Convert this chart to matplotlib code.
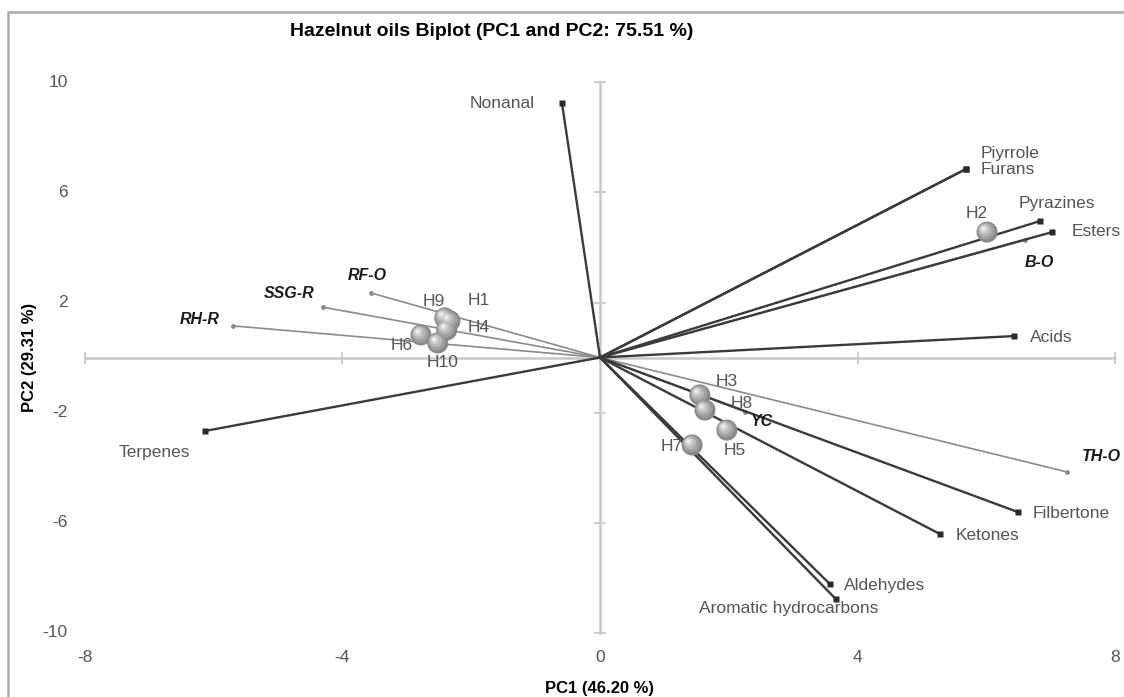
import matplotlib
matplotlib.use("Agg")
import matplotlib.pyplot as plt
from matplotlib.transforms import offset_copy
from matplotlib.patches import Rectangle

plt.rcParams['font.family'] = ['Liberation Sans', 'DejaVu Sans']

# variables (loadings), drawn as dark vectors with square ends
var_names = ['Nonanal', 'Piyrrole', 'Furans', 'Pyrazines', 'Esters', 'Acids',
             'Filbertone', 'Ketones', 'Aldehydes', 'Aromatic hydrocarbons', 'Terpenes']
var_x = [-0.59, 5.68, 5.68, 6.83, 7.02, 6.43, 6.49, 5.28, 3.57, 3.66, -6.13]
var_y = [9.24, 6.85, 6.85, 4.96, 4.56, 0.78, -5.62, -6.42, -8.24, -8.78, -2.67]

# supplementary oils, light grey vectors with bold italic labels
sup_names = ['RF-O', 'SSG-R', 'RH-R', 'B-O', 'YC', 'TH-O']
sup_x = [-3.56, -4.30, -5.70, 6.60, 2.25, 7.25]
sup_y = [2.35, 1.83, 1.15, 4.27, -1.97, -4.16]

# hazelnut samples (scores), drawn as shaded balls
smp_names = ['H1', 'H2', 'H3', 'H4', 'H5', 'H6', 'H7', 'H8', 'H9', 'H10']
smp_x = [-2.33, 6.01, 1.55, -2.38, 1.97, -2.78, 1.43, 1.63, -2.41, -2.52]
smp_y = [1.33, 4.56, -1.36, 1.00, -2.64, 0.82, -3.18, -1.91, 1.44, 0.53]

xticks = [-8, -4, 0, 4, 8]
yticks = [10, 6, 2, -2, -6, -10]

# label offsets in pixels (text placement only)
var_off = {'Nonanal': (-27, 0, 'right'), 'Piyrrole': (15, 16, 'left'), 'Furans': (15, 0, 'left'),
           'Pyrazines': (-21, 18, 'left'), 'Esters': (20, 1, 'left'), 'Acids': (16, -1, 'left'),
           'Filbertone': (15, -1, 'left'), 'Ketones': (16, -1, 'left'), 'Aldehydes': (14, -1, 'left'),
           'Aromatic hydrocarbons': (-47, -10, 'center'), 'Terpenes': (-51, -22, 'center')}
sup_off = {'RF-O': (-3, 17, 'center'), 'SSG-R': (-34, 14, 'center'), 'RH-R': (-33, 6, 'center'),
           'B-O': (14, -22, 'center'), 'YC': (17, -10, 'center'), 'TH-O': (15, 15, 'left')}
smp_off = {'H1': (29, 20), 'H2': (-10, 19), 'H3': (27, 13), 'H4': (32, 2), 'H5': (8, -20),
           'H6': (-19, -11), 'H7': (-20, -2), 'H8': (37, 7), 'H9': (-11, 16), 'H10': (5, -20)}

fig = plt.figure(figsize=(11.24, 6.97), dpi=100)
ax = fig.add_axes([0, 0, 1, 1])
ax.set_xlim(-600 / 64.4, 524 / 64.4)
ax.set_ylim((357.5 - 697) / 27.5, 357.5 / 27.5)
ax.axis('off')

# outer frame
fig.patches.append(Rectangle((8 / 1124, -0.05), 1.1, 1 - 12 / 697 + 0.05, transform=fig.transFigure,
                             fill=False, edgecolor='#a8a8a8', linewidth=1.8))

# cross axes through the origin
axcol = '#c8c8c8'
ax.plot([xticks[0], xticks[-1]], [0, 0], color=axcol, lw=1.8, zorder=1)
ax.plot([0, 0], [yticks[-1], yticks[0]], color=axcol, lw=1.8, zorder=1)
ax.plot(xticks, [0] * len(xticks), ls='none', marker='|', ms=9, mew=1.3, color=axcol, zorder=1)
ax.plot([0] * len(yticks), yticks, ls='none', marker='_', ms=9, mew=1.3, color=axcol, zorder=1)

for t in xticks:
    ax.annotate(str(t), (t, yticks[-1]), xytext=(0, -25), textcoords='offset pixels',
                ha='center', va='center', fontsize=12.5, color='#555555')
for t in yticks:
    ax.annotate(str(t), (xticks[0], t), xytext=(-17, 0), textcoords='offset pixels',
                ha='right', va='center', fontsize=12.5, color='#555555')

ax.annotate('PC1 (46.20 %)', (0, yticks[-1]), xytext=(0, -56), textcoords='offset pixels',
            ha='center', va='center', fontsize=12, fontweight='bold')
ax.annotate('PC2 (29.31 %)', (xticks[0], 0), xytext=(-55, 0), textcoords='offset pixels',
            ha='center', va='center', fontsize=12, fontweight='bold', rotation=90)
fig.text(492 / 1124, 1 - 31 / 697, 'Hazelnut oils Biplot (PC1 and PC2: 75.51 %)',
         ha='center', va='center', fontsize=14, fontweight='bold')

# supplementary vectors
for n, x, y in zip(sup_names, sup_x, sup_y):
    ax.plot([0, x], [0, y], color='#8a8a8a', lw=1.2, zorder=2)
    ax.plot(x, y, marker='o', ms=3.5, color='#8a8a8a', mec='none', zorder=2)
    dx, dy, ha = sup_off[n]
    ax.annotate(n, (x, y), xytext=(dx, dy), textcoords='offset pixels', ha=ha, va='center',
                fontsize=11.5, fontweight='bold', fontstyle='italic', color='#1a1a1a', zorder=6)

# variable vectors
for n, x, y in zip(var_names, var_x, var_y):
    ax.plot([0, x], [0, y], color='#3a3a3a', lw=1.7, zorder=3)
    ax.plot(x, y, marker='s', ms=4.5, color='#2a2a2a', mec='none', zorder=3)
    dx, dy, ha = var_off[n]
    ax.annotate(n, (x, y), xytext=(dx, dy), textcoords='offset pixels', ha=ha, va='center',
                fontsize=12.5, color='#555555', zorder=6)

# shaded balls for the samples
base = 230
layers = [(1.0, '#8a8a8a', 0), (0.8, '#a0a0a0', 1), (0.6, '#b8b8b8', 2),
          (0.4, '#d0d0d0', 3), (0.2, '#ececec', 3.5)]
for frac, col, o in layers:
    tr = offset_copy(ax.transData, fig=fig, x=-o, y=o, units='dots')
    ax.scatter(smp_x, smp_y, s=base * frac ** 2, color=col, edgecolors='none',
               transform=tr, zorder=4)
for n, x, y in zip(smp_names, smp_x, smp_y):
    dx, dy = smp_off[n]
    ax.annotate(n, (x, y), xytext=(dx, dy), textcoords='offset pixels', ha='center', va='center',
                fontsize=12.5, color='#555555', zorder=6)

fig.savefig('out.png', dpi=100)
